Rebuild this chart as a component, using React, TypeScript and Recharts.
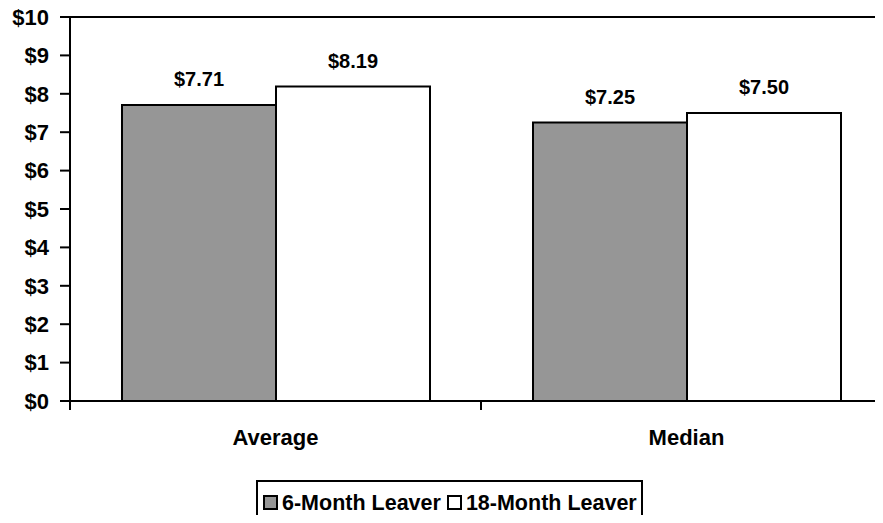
import React from "react";
import { BarChart, Bar, XAxis, YAxis, ReferenceLine, LabelList } from "recharts";

const categories = ["Average", "Median"];
const sixMonth = [7.71, 7.25];
const eighteenMonth = [8.19, 7.5];
const yTicks = [0, 1, 2, 3, 4, 5, 6, 7, 8, 9, 10];
const seriesNames = ["6-Month Leaver", "18-Month Leaver"];
const seriesColors = ["#969696", "#ffffff"];

const data = categories.map((c, i) => ({ name: c, idx: i + 0.5, a: sixMonth[i], b: eighteenMonth[i] }));

const FONT = "'Liberation Sans', Arial, sans-serif";

const BoundaryTick = (props: any) => {
  const { x, y, payload } = props;
  const v = payload.value;
  if (Number.isInteger(v)) {
    return <line x1={x} x2={x} y1={y} y2={y + 9} stroke="#000" strokeWidth={2} />;
  }
  const label = categories[Math.floor(v)];
  return (
    <text x={x} y={y + 44} textAnchor="middle" fontFamily={FONT} fontWeight="bold" fontSize={22} fill="#000">
      {label}
    </text>
  );
};

const LegendBox = () => (
  <div
    style={{
      position: "absolute",
      left: 256,
      top: 480,
      border: "2px solid #000",
      width: 387,
      height: 55,
      boxSizing: "border-box",
      fontFamily: FONT,
      fontWeight: "bold",
      fontSize: 21.5,
      lineHeight: "26px",
      color: "#000",
      whiteSpace: "nowrap",
      display: "flex",
      alignItems: "center",
      alignSelf: "flex-start",
      paddingLeft: 5,
      paddingTop: 0,
    }}
  >
    <div style={{ display: "flex", alignItems: "center", marginTop: -10 }}>
      {seriesNames.map((n, i) => (
        <div key={n} style={{ display: "flex", alignItems: "center", marginRight: i === 0 ? 6 : 0 }}>
          <span
            style={{
              display: "inline-block",
              width: 15,
              height: 15,
              background: seriesColors[i],
              border: "2px solid #000",
              boxSizing: "border-box",
              marginRight: 4,
            }}
          />
          <span>{n}</span>
        </div>
      ))}
    </div>
  </div>
);

export default function App() {
  return (
    <div style={{ margin: -8, width: 883, height: 523, overflow: "hidden", position: "relative", background: "#fff" }}>
      <BarChart
        width={900}
        height={523}
        data={data}
        margin={{ top: 17, right: 8, left: 0, bottom: 82 }}
        barCategoryGap={52}
        barGap={0}
      >
        <XAxis xAxisId="c" dataKey="name" hide height={0} />
        <XAxis
          xAxisId="n"
          type="number"
          dataKey="idx"
          domain={[0, 2]}
          ticks={[0, 0.5, 1, 1.5, 2]}
          axisLine={{ stroke: "#000", strokeWidth: 2 }}
          tickLine={false}
          tickSize={0}
          tickMargin={0}
          tick={<BoundaryTick />}
          height={40}
          interval={0}
        />
        <YAxis
          domain={[0, 10]}
          ticks={yTicks}
          width={70}
          tickFormatter={(v: number) => `$${v}`}
          axisLine={{ stroke: "#000", strokeWidth: 2 }}
          tickLine={{ stroke: "#000", strokeWidth: 2 }}
          tickSize={10}
          tickMargin={11}
          tick={{ fontFamily: FONT, fontWeight: "bold", fontSize: 22, fill: "#000" }}
          interval={0}
        />
        <ReferenceLine y={10} xAxisId="n" stroke="#000" strokeWidth={2} />
        <Bar xAxisId="c" dataKey="a" name={seriesNames[0]} fill={seriesColors[0]} stroke="#000" strokeWidth={2} isAnimationActive={false}>
          <LabelList
            dataKey="a"
            position="top"
            offset={19}
            formatter={(v: number) => `$${v.toFixed(2)}`}
            style={{ fontFamily: FONT, fontWeight: "bold", fontSize: 20, fill: "#000" }}
          />
        </Bar>
        <Bar xAxisId="c" dataKey="b" name={seriesNames[1]} fill={seriesColors[1]} stroke="#000" strokeWidth={2} isAnimationActive={false}>
          <LabelList
            dataKey="b"
            position="top"
            offset={19}
            formatter={(v: number) => `$${v.toFixed(2)}`}
            style={{ fontFamily: FONT, fontWeight: "bold", fontSize: 20, fill: "#000" }}
          />
        </Bar>
      </BarChart>
      <LegendBox />
    </div>
  );
}
